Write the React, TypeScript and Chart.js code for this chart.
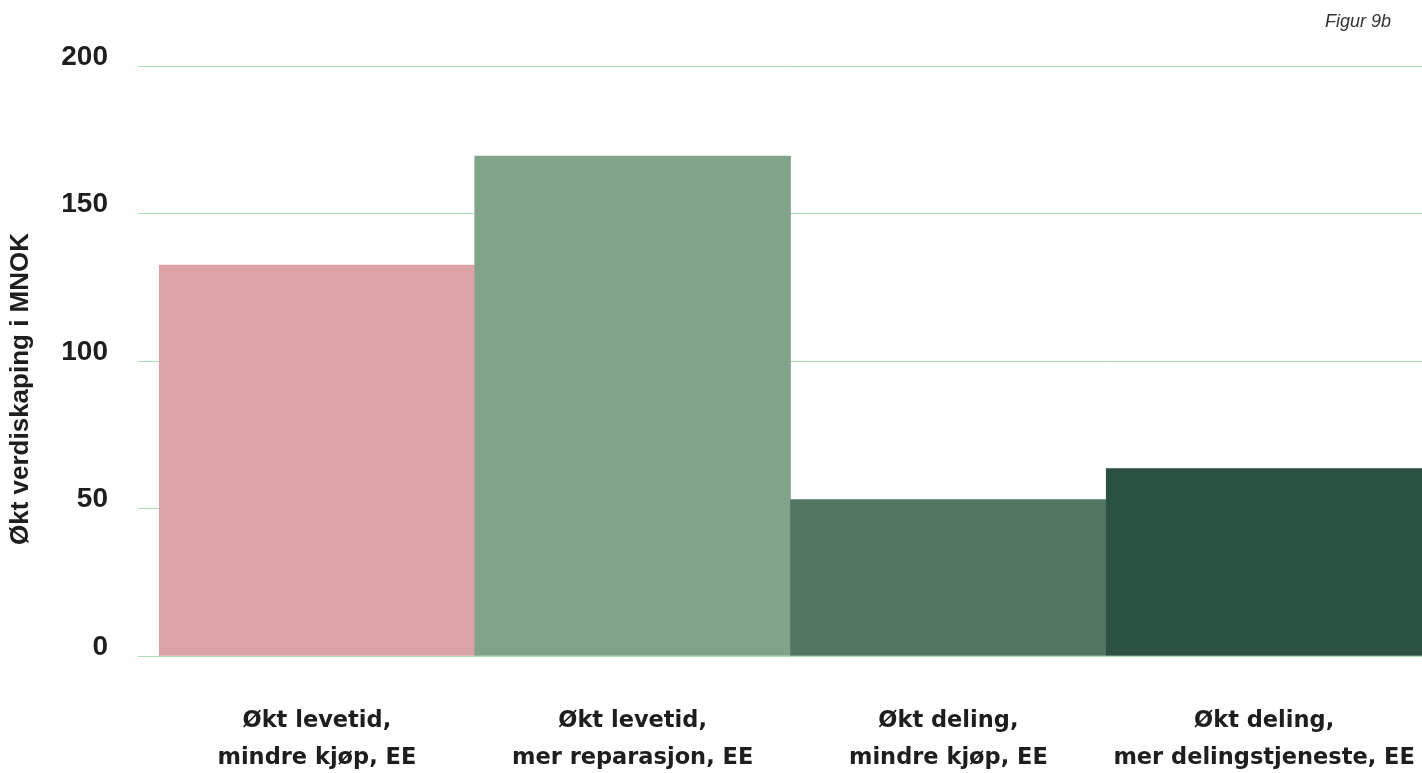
import React, { useEffect, useRef } from "react";
import { Chart, registerables } from "chart.js";

Chart.register(...registerables);

const categories: string[][] = [
  ["Økt levetid,", "mindre kjøp, EE"],
  ["Økt levetid,", "mer reparasjon, EE"],
  ["Økt deling,", "mindre kjøp, EE"],
  ["Økt deling,", "mer delingstjeneste, EE"],
];
const values: number[] = [132.5, 169.5, 53, 63.5];
const barColors: string[] = ["#DBA3A6", "#80A389", "#517662", "#2B5140"];
const yTitle = "Økt verdiskaping i MNOK";
const figureLabel = "Figur 9b";

const ARIAL = "'Liberation Sans', Arial, sans-serif";
const WIDE = "'DejaVu Sans', sans-serif";

const yTitlePlugin = {
  id: "yTitleCustom",
  afterDraw(chart: any) {
    const ctx = chart.ctx;
    const area = chart.chartArea;
    ctx.save();
    ctx.translate(21, (area.top + area.bottom) / 2 + 28);
    ctx.rotate(-Math.PI / 2);
    ctx.font = `bold 26px ${ARIAL}`;
    ctx.fillStyle = "#1e1e1e";
    ctx.textAlign = "center";
    ctx.textBaseline = "middle";
    ctx.fillText(yTitle, 0, 0);
    ctx.restore();
  },
};

export default function App() {
  const ref = useRef<HTMLCanvasElement | null>(null);

  useEffect(() => {
    document.body.style.margin = "0";
    if (!ref.current) return;
    const chart = new Chart(ref.current, {
      type: "bar",
      data: {
        labels: categories,
        datasets: [
          {
            data: values,
            backgroundColor: barColors,
            borderWidth: 0,
            categoryPercentage: 1,
            barPercentage: 1,
          },
        ],
      },
      plugins: [yTitlePlugin],
      options: {
        animation: false,
        responsive: false,
        maintainAspectRatio: false,
        layout: { padding: { top: 66, right: 0, bottom: 0, left: 0 } },
        plugins: {
          legend: { display: false },
          tooltip: { enabled: false },
          title: { display: false },
        },
        scales: {
          x: {
            afterFit: (scale: any) => {
              scale.height = 117;
              scale.paddingLeft = 0;
              scale.paddingRight = 0;
            },
            grid: { display: false },
            border: { display: false },
            ticks: {
              color: "#1e1e1e",
              padding: 39,
              maxRotation: 0,
              autoSkip: false,
              font: { family: WIDE, size: 22.5, weight: "bold", lineHeight: 1.64 },
            },
          },
          y: {
            min: 0,
            max: 200,
            afterFit: (scale: any) => {
              scale.width = 159;
            },
            border: { display: false },
            grid: {
              color: "#A9DDB7",
              lineWidth: 1,
              drawTicks: true,
              tickLength: 21,
            },
            ticks: {
              stepSize: 50,
              color: "#1e1e1e",
              padding: 30,
              labelOffset: -9,
              font: { family: ARIAL, size: 28, weight: "bold" },
            },
            title: { display: false },
          },
        },
      },
    });
    return () => chart.destroy();
  }, []);

  return (
    <div style={{ position: "absolute", left: 0, top: 0, width: 1422, height: 773, background: "#fff" }}>
      <canvas ref={ref} width={1422} height={773} style={{ display: "block" }} />
      <div
        style={{
          position: "absolute",
          left: 1325,
          top: 11,
          fontFamily: ARIAL,
          fontStyle: "italic",
          fontSize: 18,
          color: "#333",
          whiteSpace: "nowrap",
        }}
      >
        {figureLabel}
      </div>
    </div>
  );
}
